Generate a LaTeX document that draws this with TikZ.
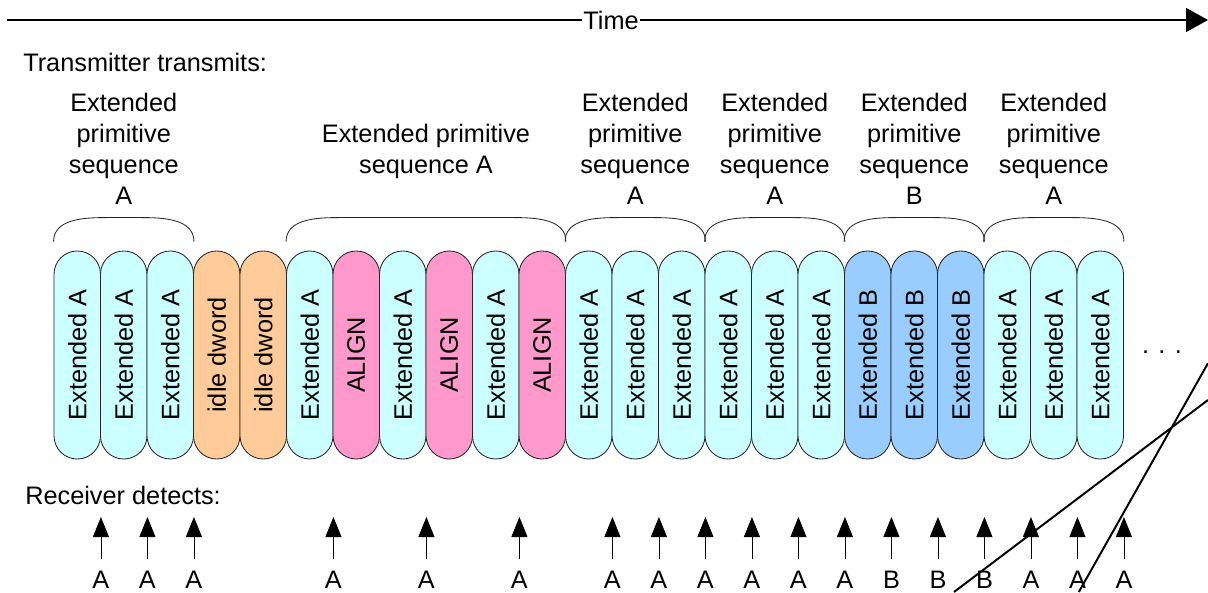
\documentclass[tikz,border=0pt]{standalone}
\usepackage{fontspec}
\setmainfont{Liberation Sans}
\usetikzlibrary{arrows.meta,calc}

\definecolor{extAcol}{HTML}{CCFFFF}
\definecolor{extBcol}{HTML}{99CCFF}
\definecolor{idlecol}{HTML}{FFCC99}
\definecolor{aligncol}{HTML}{FF99CC}

% curly bracket over a run of dwords, from node #1 to node #2
\newcommand{\seqbrace}[2]{%
  \draw[seqbrc] ($(#1.north west)+(0,0.225)$) to[out=90,in=180] ($(#1.north west)+(1.3,0.825)$)
    -- ($(#2.north east)+(-1.3,0.825)$) to[out=0,in=90] ($(#2.north east)+(0,0.225)$);}

\begin{document}
\begin{tikzpicture}[every node/.style={font=\fontsize{18}{22}\selectfont},
	capsule/.style={draw=black!85, line width=0.6pt, rounded corners=0.58cm, minimum width=1.1625cm, minimum height=5.2cm, inner sep=0pt},
	seqbrc/.style={black!85, line width=0.6pt},
	seqlbl/.style={align=center, inner sep=0pt},
	det/.style={inner sep=1pt},
	detarrow/.style={-{Triangle[length=5mm,width=4mm]}, line width=0.6pt, shorten <=0.27cm},
	stray/.style={line width=1.4pt}]
	\useasboundingbox (0,0) rectangle (30.2,14.8);
	% time axis
	\coordinate (t0) at (0.175,14.3);
	\coordinate (t1) at (30.2,14.3);
	\draw[-{Triangle[length=5.5mm,width=6mm]}, line width=1pt] (t0) -- (t1) node[pos=0.503, fill=white, inner sep=1pt] (time) {Time};
	\node[anchor=west, inner sep=0pt] (tx) at (0.575,13.25) {Transmitter transmits:};
	% transmitted dwords
	\foreach \lbl/\col [count=\i] in {Extended A/extAcol, Extended A/extAcol, Extended A/extAcol,
		idle dword/idlecol, idle dword/idlecol,
		Extended A/extAcol, ALIGN/aligncol, Extended A/extAcol, ALIGN/aligncol, Extended A/extAcol, ALIGN/aligncol,
		Extended A/extAcol, Extended A/extAcol, Extended A/extAcol, Extended A/extAcol, Extended A/extAcol, Extended A/extAcol,
		Extended B/extBcol, Extended B/extBcol, Extended B/extBcol,
		Extended A/extAcol, Extended A/extAcol, Extended A/extAcol}
		\node[capsule, fill=\col] (c\i) at ({1.35+1.1625*(\i-0.5)},5.925) {\rotatebox{90}{\lbl}};
	\node (more) at (29.05,6.0) {. . .};
	% sequences
	\seqbrace{c1}{c3}
	\seqbrace{c6}{c11}
	\seqbrace{c12}{c14}
	\seqbrace{c15}{c17}
	\seqbrace{c18}{c20}
	\seqbrace{c21}{c23}
	\node[seqlbl] (s1) at ($(c1)!.5!(c3)+(0,5.16)$) {Extended\\primitive\\sequence\\A};
	\node[seqlbl] (s2) at ($(c6)!.5!(c11)+(0,5.085)$) {Extended primitive\\sequence A};
	\node[seqlbl] (s3) at ($(c12)!.5!(c14)+(0,5.16)$) {Extended\\primitive\\sequence\\A};
	\node[seqlbl] (s4) at ($(c15)!.5!(c17)+(0,5.16)$) {Extended\\primitive\\sequence\\A};
	\node[seqlbl] (s5) at ($(c18)!.5!(c20)+(0,5.16)$) {Extended\\primitive\\sequence\\B};
	\node[seqlbl] (s6) at ($(c21)!.5!(c23)+(0,5.16)$) {Extended\\primitive\\sequence\\A};
	% receiver side
	\node[anchor=west, inner sep=0pt] (rx) at (0.625,2.4125) {Receiver detects:};
	\foreach \i/\t in {1/A,2/A,3/A,6/A,8/A,10/A,12/A,13/A,14/A,15/A,16/A,17/A,18/B,19/B,20/B,21/A,22/A,23/A} {
		\node[det] (d\i) at (c\i.east |- 0,0.3) {\t};
		\coordinate (h\i) at (c\i.east |- 0,1.875);
		\draw[detarrow] (d\i) -- (h\i);
	}
	\draw[stray] (23.85,0) -- (30.2,4.8);
	\draw[stray] (26.97,0) -- (30.2,5.72);
\end{tikzpicture}
\end{document}
